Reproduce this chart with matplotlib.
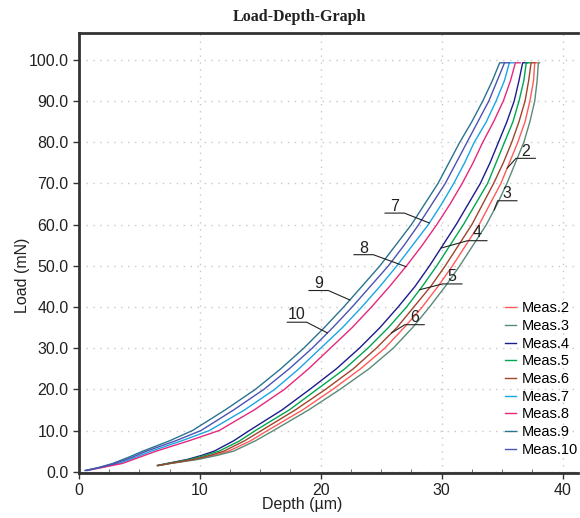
import numpy as np
import matplotlib
matplotlib.use("Agg")
import matplotlib.pyplot as plt

# load steps (mN) used when reading the curves off the picture
loads_a = [0.3, 1, 2, 3.5, 5, 7.5, 10, 15, 20, 25, 30, 35, 40, 45, 50,
           55, 60, 65, 70, 75, 80, 85, 90, 95, 99.3, 99.3]
loads_b = [1.5, 2, 3, 4, 5, 7.5, 10, 15, 20, 25, 30, 35, 40, 45, 50,
           55, 60, 65, 70, 75, 80, 85, 90, 95, 99.3, 99.3]

# depth (um) of each measurement at those loads
meas_2 = [6.6, 7.5, 9.7, 11.2, 12.4, 14.2, 15.6, 18.5, 21.0, 23.3, 25.3, 26.9, 28.4,
          29.7, 30.9, 32.0, 33.1, 34.0, 34.9, 35.6, 36.3, 36.9, 37.3, 37.6, 37.7, 37.9]
meas_3 = [6.6, 7.6, 9.9, 11.5, 12.8, 14.6, 16.1, 19.0, 21.6, 24.0, 26.0, 27.6, 29.0,
          30.3, 31.5, 32.6, 33.7, 34.6, 35.4, 36.1, 36.8, 37.3, 37.7, 37.9, 38.0, 38.1]
meas_4 = [6.5, 7.3, 9.0, 10.2, 11.2, 12.8, 14.1, 16.8, 19.1, 21.3, 23.2, 24.9, 26.4,
          27.8, 29.0, 30.1, 31.2, 32.2, 33.2, 34.0, 34.7, 35.4, 36.0, 36.4, 36.7, 37.1]
meas_5 = [6.5, 7.4, 9.2, 10.5, 11.6, 13.3, 14.6, 17.4, 19.7, 22.0, 23.9, 25.6, 27.1,
          28.4, 29.6, 30.7, 31.8, 32.8, 33.8, 34.5, 35.2, 35.9, 36.4, 36.8, 37.0, 37.4]
meas_6 = [6.5, 7.5, 9.5, 10.9, 12.0, 13.7, 15.1, 17.9, 20.4, 22.7, 24.6, 26.3, 27.7,
          29.1, 30.3, 31.4, 32.5, 33.4, 34.3, 35.1, 35.8, 36.4, 36.9, 37.2, 37.4, 37.7]
meas_7 = [0.6, 1.8, 3.3, 4.7, 6.0, 8.5, 10.8, 13.7, 16.2, 18.2, 20.0, 21.8, 23.4,
          24.9, 26.3, 27.6, 28.9, 30.0, 31.0, 31.9, 32.7, 33.7, 34.5, 35.2, 35.6, 36.0]
meas_8 = [0.7, 1.9, 3.6, 5.0, 6.4, 9.1, 11.6, 14.5, 17.0, 19.0, 20.8, 22.6, 24.2,
          25.7, 27.1, 28.4, 29.6, 30.7, 31.7, 32.6, 33.4, 34.3, 35.1, 35.7, 36.1, 36.5]
meas_9 = [0.5, 1.6, 2.8, 4.1, 5.3, 7.5, 9.4, 12.1, 14.6, 16.7, 18.6, 20.3, 21.9,
          23.4, 24.9, 26.2, 27.5, 28.6, 29.7, 30.6, 31.5, 32.5, 33.4, 34.2, 34.8, 35.2]
meas_10 = [0.6, 1.7, 3.0, 4.4, 5.6, 8.0, 10.1, 12.8, 15.3, 17.4, 19.3, 21.0, 22.6,
           24.1, 25.6, 26.9, 28.1, 29.2, 30.3, 31.2, 32.1, 33.0, 33.9, 34.6, 35.2, 35.6]

names = ["Meas.2", "Meas.3", "Meas.4", "Meas.5", "Meas.6",
         "Meas.7", "Meas.8", "Meas.9", "Meas.10"]
depths = [meas_2, meas_3, meas_4, meas_5, meas_6, meas_7, meas_8, meas_9, meas_10]
load_sets = [loads_b] * 5 + [loads_a] * 4
colors = ["#ff5a5a", "#5a8a78", "#1c1c8c", "#00a651", "#a0442c",
          "#1aa6e6", "#e6287a", "#2a7390", "#4a52b4"]

# callout labels: text position (depth, load), underline load, load where leader meets curve
tag_text = ["2", "3", "4", "5", "6", "7", "8", "9", "10"]
tag_x = [36.95, 35.43, 32.95, 30.88, 27.76, 26.12, 23.55, 19.83, 18.04]
tag_y = [77.7, 67.6, 58.0, 47.4, 37.4, 64.4, 54.3, 45.8, 38.1]
tag_line = [76.1, 65.8, 56.1, 45.6, 35.7, 62.8, 52.7, 44.0, 36.3]
tag_hit = [73.7, 63.6, 54.3, 44.2, 33.7, 60.4, 49.8, 41.7, 33.7]

plt.rcParams['font.family'] = ['Liberation Sans', 'DejaVu Sans']

fig = plt.figure(figsize=(5.8, 5.18), dpi=100)
ax = fig.add_axes([0.136, 0.087, 0.861, 0.849])

ax.axhline(0, color="#999999", lw=0.8, zorder=1)
for d, l, c, n in zip(depths, load_sets, colors, names):
    ax.plot(d, l, color=c, lw=1.0, label=n, zorder=3)

for i in range(len(tag_text)):
    curve_x = np.interp(tag_hit[i], load_sets[i], depths[i])
    if i < 5:
        xs = [tag_x[i] + 0.8, tag_x[i] - 0.8, curve_x]
    else:
        xs = [tag_x[i] - 0.8, tag_x[i] + 0.8, curve_x]
    ax.plot(xs, [tag_line[i], tag_line[i], tag_hit[i]], color="#222222", lw=0.8, zorder=4)
    ax.text(tag_x[i], tag_y[i], tag_text[i], ha="center", va="center", fontsize=11.5, color="#222222")

ax.set_xlim(0, 41.3)
ax.set_ylim(-0.3, 106.5)
ax.set_xticks([0, 10, 20, 30, 40])
ax.set_yticks(np.arange(0, 101, 10))
ax.set_yticklabels([f"{v:.1f}" for v in np.arange(0, 101, 10)])
ax.set_xticks(np.arange(0, 41.3, 2.5), minor=True)
ax.tick_params(axis="both", which="major", labelsize=11.5, length=4, width=1, color="#333333", labelcolor="#222222")
ax.tick_params(axis="x", which="minor", length=3, direction="in", color="#555555")
ax.grid(True, which="major", color="#c8c8c8", linestyle=(0, (1, 4)), lw=1)

for s in ["left", "top", "bottom"]:
    ax.spines[s].set_linewidth(2)
    ax.spines[s].set_color("#333333")
ax.spines["right"].set_visible(False)

ax.set_xlabel("Depth (µm)", fontsize=11.5, color="#222222")
ax.set_ylabel("Load (mN)", fontsize=11.5, color="#222222")
ax.xaxis.set_label_coords(0.447, -0.055)
ax.yaxis.set_label_coords(-0.098, 0.45)

fig.text(0.517, 0.967, "Load-Depth-Graph", ha="center", va="center", fontsize=11.5,
         fontweight="bold", family="Liberation Serif", color="#222222")

leg = ax.legend(loc="lower right", bbox_to_anchor=(1.0, 0.037), frameon=False, fontsize=10.5,
                handlelength=0.8, handletextpad=0.4, labelspacing=0.25, borderpad=0, borderaxespad=0)

fig.savefig("out.png", dpi=100)
